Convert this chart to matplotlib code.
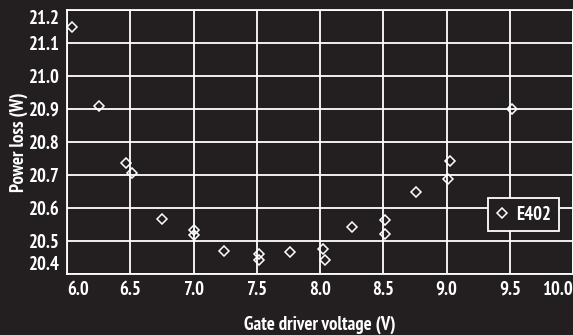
import matplotlib.pyplot as plt

# Power loss versus gate driver voltage, E402 device
voltage = [6.04, 6.25, 6.47, 6.51, 6.75, 7.0, 7.0, 7.24, 7.52, 7.52, 7.76,
           8.02, 8.04, 8.25, 8.51, 8.51, 8.76, 9.01, 9.03, 9.52]
power_loss = [21.15, 20.91, 20.737, 20.705, 20.567, 20.533, 20.518, 20.47,
              20.462, 20.442, 20.467, 20.476, 20.444, 20.542, 20.564, 20.521,
              20.649, 20.689, 20.743, 20.9]

x_ticks = [6.0, 6.5, 7.0, 7.5, 8.0, 8.5, 9.0, 9.5, 10.0]
y_ticks = [20.4, 20.5, 20.6, 20.7, 20.8, 20.9, 21.0, 21.1, 21.2]

bg = '#231f20'
fg = 'white'
fs = 13.5
plt.rcParams['font.family'] = ['PT Sans Narrow', 'DejaVu Sans']
plt.rcParams['font.weight'] = 'bold'

fig = plt.figure(figsize=(5.73, 3.35), dpi=100, facecolor=bg)
ax = fig.add_axes([0.117, 0.182, 0.883, 0.788], facecolor=bg)

ax.plot(voltage, power_loss, linestyle='none', marker='D', markersize=4.6,
        markerfacecolor='none', markeredgecolor=fg, markeredgewidth=1.1,
        label='E402', clip_on=False, zorder=3)

ax.set_xlim(6.0, 10.0)
ax.set_ylim(20.4, 21.2)
ax.set_xticks(x_ticks)
ax.set_yticks(y_ticks)
ax.set_xticklabels([f'{v:.1f}' for v in x_ticks], fontweight='bold')
ax.set_yticklabels([f'{v:.1f}' for v in y_ticks], fontweight='bold')
ax.tick_params(length=0, colors=fg, labelsize=fs, pad=5)
ax.grid(True, color=fg, linewidth=1.3)
ax.set_axisbelow(True)
for s in ax.spines.values():
    s.set_color(fg)
    s.set_linewidth(1.3)

# end labels sit inside the axis range
xl = ax.get_xticklabels()
xl[0].set_ha('left')
xl[-1].set_ha('right')
yl = ax.get_yticklabels()
yl[0].set_va('bottom')
yl[-1].set_va('top')

ax.set_xlabel('Gate driver voltage (V)', color=fg, fontsize=fs,
              fontweight='bold', labelpad=12)
ax.set_ylabel('Power loss (W)', color=fg, fontsize=fs,
              fontweight='bold', labelpad=1)

leg = ax.legend(loc='upper right', bbox_to_anchor=(0.972, 0.288),
                frameon=True, fancybox=False, facecolor=bg, edgecolor=fg,
                prop={'size': fs, 'weight': 'bold'}, handlelength=0.7,
                handletextpad=0.4, borderpad=0.4, borderaxespad=0)
leg.get_frame().set_linewidth(1.3)
leg.get_frame().set_alpha(1)
for t in leg.get_texts():
    t.set_color(fg)

fig.savefig('out.png', dpi=100, facecolor=bg)
